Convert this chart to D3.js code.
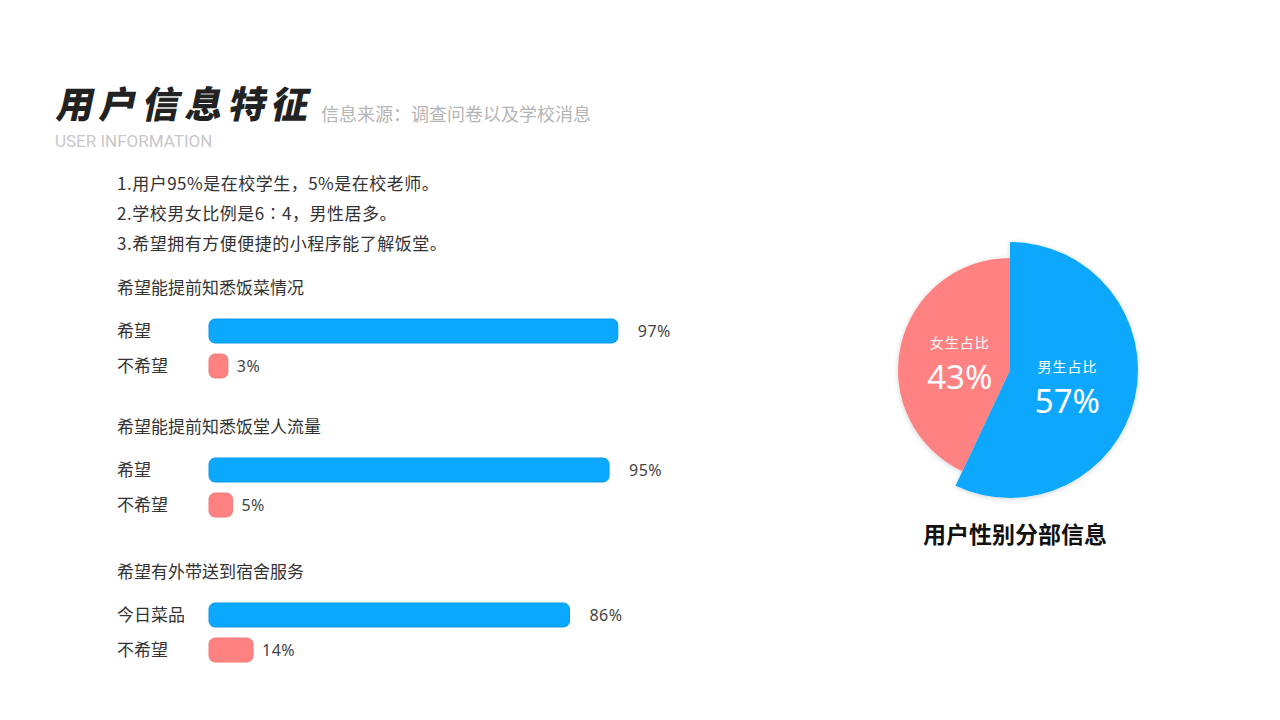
<!DOCTYPE html>
<html><head><meta charset="utf-8">
<script src="https://cdn.jsdelivr.net/npm/d3@7"></script>
<style>body{margin:0;background:#fff}svg{display:block}text{font-family:"Noto Sans CJK SC","Noto Sans",sans-serif}</style>
</head><body>
<svg id="c" width="1280" height="720"></svg>
<script>
const notes = ["1.用户95%是在校学生，5%是在校老师。","2.学校男女比例是6∶4，男性居多。","3.希望拥有方便便捷的小程序能了解饭堂。"];
const groupTitles = ["希望能提前知悉饭菜情况","希望能提前知悉饭堂人流量","希望有外带送到宿舍服务"];
const yesLabels = ["希望","希望","今日菜品"];
const noLabels = ["不希望","不希望","不希望"];
const yesValues = [97,95,86];
const noValues = [3,5,14];
const genderLabels = ["男生占比","女生占比"];
const genderValues = [57,43];

const svg = d3.select("#c");
const blue = "#0aa8fe", blueStroke = "#0a97ee", pink = "#fe8282", pinkStroke = "#f57878";

// header
svg.append("text").attr("x",55).attr("y",118).attr("font-size",37).attr("font-weight",900)
  .attr("letter-spacing",6).attr("fill","#222")
  .attr("transform","skewX(-12) translate(25,0)")
  .text("用户信息特征");
svg.append("text").attr("x",321).attr("y",121).attr("font-size",18).attr("fill","#b5b5b5").text("信息来源：调查问卷以及学校消息");
svg.append("text").attr("x",55).attr("y",147).attr("font-size",17).attr("fill","#c8c8c8")
  .style("font-family","Roboto, sans-serif").text("USER INFORMATION");

svg.selectAll("text.note").data(notes).join("text").attr("class","note")
  .attr("x",117).attr("y",(d,i)=>190+i*30).attr("font-size",17).attr("letter-spacing",0.5).attr("fill","#333").text(d=>d);

// bars
const x = d3.scaleLinear().domain([0,14,100]).range([12,44,422]);
const x0 = 209;
const groupTop = [288,427,572];
const rows = groupTitles.map((t,i)=>({t,i,yes:yesValues[i],no:noValues[i],yl:yesLabels[i],nl:noLabels[i],top:groupTop[i]}));
const g = svg.selectAll("g.grp").data(rows).join("g").attr("class","grp");
g.append("text").attr("x",117).attr("y",d=>d.top+6).attr("font-size",17).attr("fill","#333").text(d=>d.t);
const bh = 24;
function addRow(sel, val, lab, dy, fill, stroke, off){
  sel.append("text").attr("x",117).attr("y",d=>d.top+dy+6).attr("font-size",17).attr("fill","#333").text(lab);
  sel.append("rect").attr("x",x0).attr("y",d=>d.top+dy-bh/2).attr("height",bh)
    .attr("width",d=>x(val(d))).attr("rx",6).attr("fill",fill).attr("stroke",stroke).attr("stroke-width",1);
  sel.append("text").attr("x",d=>x0+x(val(d))+off).attr("y",d=>d.top+dy+6).attr("font-size",16).attr("letter-spacing",0.5).attr("fill","#444")
    .style("font-family","'Noto Sans',sans-serif").text(d=>val(d)+"%");
}
addRow(g, d=>d.yes, d=>d.yl, 43, blue, blueStroke, 20);
addRow(g, d=>d.no, d=>d.nl, 78, pink, pinkStroke, 9);

// pie
const defs = svg.append("defs");
const f = defs.append("filter").attr("id","sh").attr("x","-20%").attr("y","-20%").attr("width","140%").attr("height","140%");
f.append("feDropShadow").attr("dx",0).attr("dy",1).attr("stdDeviation",2.5).attr("flood-color","#000").attr("flood-opacity",0.18);
const cx = 1010, cy = 370;
const radii = [128,112];
const colors = [blue,pink];
const pie = d3.pie().sort(null);
const arcs = pie(genderValues);
const pg = svg.append("g").attr("transform",`translate(${cx},${cy})`);
pg.append("g").attr("filter","url(#sh)").selectAll("path").data(arcs).join("path")
  .attr("d",(d,i)=>d3.arc().innerRadius(0).outerRadius(radii[i])(d))
  .attr("fill",(d,i)=>colors[i]);
const lab = pg.selectAll("g.lab").data(arcs).join("g").attr("class","lab")
  .attr("transform",(d,i)=>{const c=d3.arc().innerRadius(0).outerRadius(radii[i]*0.92).centroid(d);return `translate(${c[0]},${c[1]})`;});
lab.append("text").attr("text-anchor","middle").attr("y",-11).attr("font-size",14).attr("letter-spacing",1).attr("fill","#fff").text((d,i)=>genderLabels[i]);
lab.append("text").attr("text-anchor","middle").attr("y",30).attr("font-size",33).attr("fill","#fff")
  .style("font-family","'Noto Sans',sans-serif").text(d=>d.data+"%");

svg.append("text").attr("x",1015).attr("y",543).attr("text-anchor","middle").attr("font-size",23).attr("font-weight",600).attr("fill","#111").text("用户性别分部信息");
</script>
</body></html>
